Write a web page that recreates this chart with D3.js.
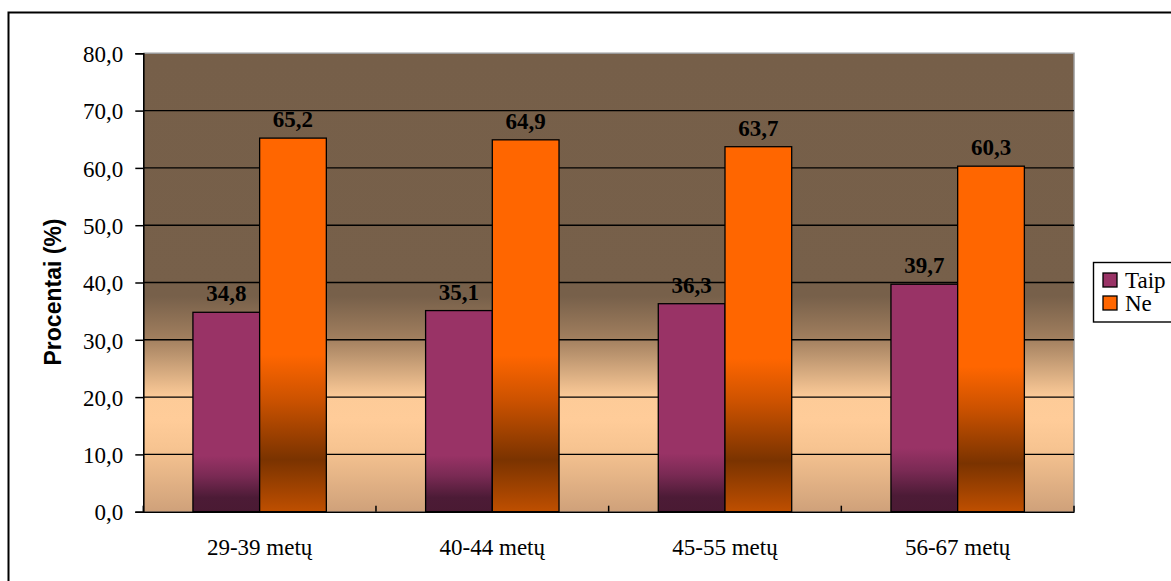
<!DOCTYPE html>
<html>
<head>
<meta charset="utf-8">
<script src="https://cdn.jsdelivr.net/npm/d3@7"></script>
<style>
  html, body { margin: 0; padding: 0; background: #fff; }
  svg { display: block; }
</style>
</head>
<body>
<svg id="chart" width="1171" height="581"></svg>
<script>
// Age groups and answer shares (%)
const categories = ["29-39 metų", "40-44 metų", "45-55 metų", "56-67 metų"];
const seriesNames = ["Taip", "Ne"];
const taipValues = [34.8, 35.1, 36.3, 39.7];
const neValues = [65.2, 64.9, 63.7, 60.3];
const yTicks = [0, 10, 20, 30, 40, 50, 60, 70, 80];
const yTitle = "Procentai (%)";

const seriesValues = { "Taip": taipValues, "Ne": neValues };
const seriesFill = { "Taip": "url(#gradTaip)", "Ne": "url(#gradNe)" };
const legendSwatch = { "Taip": "#993366", "Ne": "#FF6600" };

const SERIF = "Liberation Serif, Times New Roman, Times, serif";
const SANS = "Liberation Sans, Arial, Helvetica, sans-serif";

const svg = d3.select("#chart");
const plot = { left: 143.3, right: 1074, top: 53.3, bottom: 511.7 };

const locale = d3.formatLocale({ decimal: ",", thousands: " ", grouping: [3], currency: ["", ""] });
const fmt = locale.format(".1f");

const x = d3.scaleBand().domain(categories).range([plot.left, plot.right]).padding(0);
const xs = d3.scaleBand().domain(seriesNames).range([0, x.bandwidth()])
  .paddingInner(0).paddingOuter(0.744);
const y = d3.scaleLinear().domain([0, 80]).range([plot.bottom, plot.top]);

// Vertical gradients for the plot area and the two series
const defs = svg.append("defs");
function vGrad(id, stops) {
  const g = defs.append("linearGradient").attr("id", id)
    .attr("x1", 0).attr("y1", 0).attr("x2", 0).attr("y2", 1);
  stops.forEach(([o, c]) => g.append("stop").attr("offset", o).attr("stop-color", c));
}
vGrad("gradBg", [[0, "#765F49"], [0.53, "#77604A"], [0.62, "#A07E5E"], [0.75, "#FDCB98"], [0.8, "#FFCC99"], [0.86, "#F7C491"], [1, "#CFA17A"]]);
vGrad("gradTaip", [[0, "#993366"], [0.72, "#993366"], [0.82, "#7A2A54"], [0.93, "#4C1B36"], [1, "#4A1A33"]]);
vGrad("gradNe", [[0, "#FF6600"], [0.58, "#FF6600"], [0.7, "#CC5200"], [0.86, "#7A3300"], [1, "#BF4F00"]]);

// Outer frame
svg.append("rect").attr("x", 8.5).attr("y", 12.5).attr("width", 1200).attr("height", 600)
  .attr("fill", "#fff").attr("stroke", "#000").attr("stroke-width", 2);

// Plot background
svg.append("rect").attr("x", plot.left).attr("y", plot.top)
  .attr("width", plot.right - plot.left).attr("height", plot.bottom - plot.top)
  .attr("fill", "url(#gradBg)");

// Plot border (top and right)
svg.append("path")
  .attr("d", `M${plot.left},${plot.top}H${plot.right}V${plot.bottom}`)
  .attr("fill", "none").attr("stroke", "#999").attr("stroke-width", 1.5);

// Gridlines
svg.append("g").selectAll("line")
  .data(yTicks.filter(t => t > 0 && t < 80))
  .join("line")
  .attr("x1", plot.left).attr("x2", plot.right)
  .attr("y1", d => y(d)).attr("y2", d => y(d))
  .attr("stroke", "#000").attr("stroke-width", 1.4);

// Bars
const groups = svg.append("g").selectAll("g")
  .data(categories)
  .join("g")
  .attr("transform", d => `translate(${x(d)},0)`);

groups.selectAll("rect")
  .data((c, i) => seriesNames.map(s => ({ s, v: seriesValues[s][i] })))
  .join("rect")
  .attr("x", d => xs(d.s))
  .attr("y", d => y(d.v))
  .attr("width", xs.bandwidth())
  .attr("height", d => y(0) - y(d.v))
  .attr("fill", d => seriesFill[d.s])
  .attr("stroke", "#000").attr("stroke-width", 1.3);

// Value labels
groups.selectAll("text.val")
  .data((c, i) => seriesNames.map(s => ({ s, v: seriesValues[s][i] })))
  .join("text")
  .attr("class", "val")
  .attr("x", d => xs(d.s) + xs.bandwidth() / 2)
  .attr("y", d => y(d.v) - 11)
  .attr("text-anchor", "middle")
  .attr("font-family", SERIF)
  .attr("font-weight", "bold")
  .attr("font-size", 23)
  .attr("fill", "#000")
  .text(d => fmt(d.v));

// Y axis
const yAxis = svg.append("g")
  .attr("transform", `translate(${plot.left},0)`)
  .call(d3.axisLeft(y).tickValues(yTicks).tickSize(8).tickPadding(12).tickFormat(fmt))
  .attr("font-family", SERIF).attr("font-size", 23);
yAxis.select(".domain").attr("stroke", "#000").attr("stroke-width", 1.6);
yAxis.selectAll(".tick line").attr("stroke", "#000").attr("stroke-width", 1.5);
yAxis.selectAll(".tick text").attr("fill", "#000").attr("dy", "0.36em");

// X axis line and category labels
const xAxis = svg.append("g")
  .attr("transform", `translate(0,${plot.bottom})`)
  .call(d3.axisBottom(x).tickSize(0).tickPadding(43))
  .attr("font-family", SERIF).attr("font-size", 23);
xAxis.select(".domain").attr("stroke", "#000").attr("stroke-width", 1.6);
xAxis.selectAll(".tick text").attr("fill", "#000").attr("dy", "0");

// Category separators (short inside ticks)
svg.append("g").selectAll("line")
  .data(d3.range(categories.length + 1))
  .join("line")
  .attr("x1", i => plot.left + i * x.step()).attr("x2", i => plot.left + i * x.step())
  .attr("y1", plot.bottom).attr("y2", plot.bottom - 6)
  .attr("stroke", "#000").attr("stroke-width", 1.5);

// Y title
svg.append("text")
  .attr("transform", "translate(52.5,292) rotate(-90)")
  .attr("text-anchor", "middle")
  .attr("dy", "0.35em")
  .attr("font-family", SANS)
  .attr("font-weight", "bold")
  .attr("font-size", 23)
  .attr("fill", "#000")
  .text(yTitle);

// Legend
const legend = svg.append("g").attr("transform", "translate(1093,262)");
legend.append("rect").attr("x", 0.5).attr("y", 0.5).attr("width", 120).attr("height", 59.5)
  .attr("fill", "#fff").attr("stroke", "#000").attr("stroke-width", 1.4);
const items = legend.selectAll("g.item").data(seriesNames).join("g")
  .attr("class", "item")
  .attr("transform", (d, i) => `translate(10,${11 + i * 23})`);
items.append("rect").attr("width", 14).attr("height", 14)
  .attr("fill", d => legendSwatch[d]).attr("stroke", "#000").attr("stroke-width", 1.3);
items.append("text").attr("x", 22).attr("y", 14.5)
  .attr("font-family", SERIF).attr("font-size", 23).attr("fill", "#000")
  .text(d => d);
</script>
</body>
</html>
